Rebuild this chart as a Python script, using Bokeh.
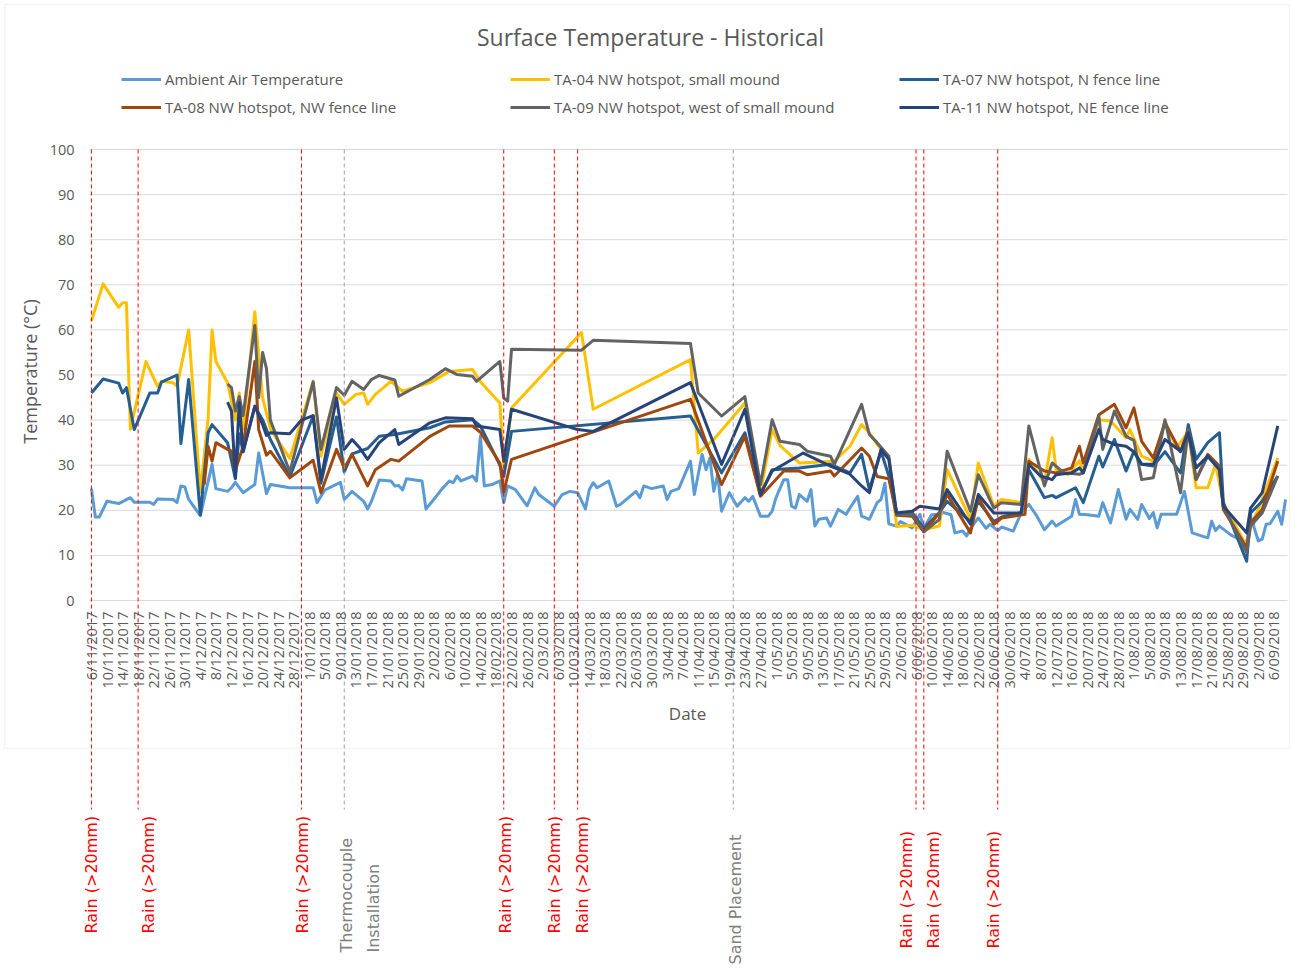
import math
import pandas as pd
from bokeh.plotting import figure
from bokeh.models import (Range1d, FixedTicker, DatetimeTickFormatter, Label,
                          Legend, LegendItem, BoxAnnotation, ColumnDataSource)
from bokeh.core.properties import value
from bokeh.embed import file_html
from bokeh.resources import INLINE

# ---------------------------------------------------------------- texts / ticks
TITLE = "Surface Temperature - Historical"
Y_LABEL = "Temperature (°C)"
X_LABEL = "Date"
Y_TICKS = [0, 10, 20, 30, 40, 50, 60, 70, 80, 90, 100]
X_TICK_FIRST = "2017-11-06"
X_TICK_LAST = "2018-09-06"
X_TICK_STEP = "4D"

# ---------------------------------------------------------------- series data
AMB_DATES = [
    "2017-11-06", "2017-11-07", "2017-11-08", "2017-11-10", "2017-11-13", "2017-11-16", "2017-11-17",
    "2017-11-21", "2017-11-22", "2017-11-23", "2017-11-27", "2017-11-28", "2017-11-29", "2017-11-30",
    "2017-12-01", "2017-12-04", "2017-12-07", "2017-12-08", "2017-12-11", "2017-12-12", "2017-12-13",
    "2017-12-15", "2017-12-18", "2017-12-19", "2017-12-21", "2017-12-22", "2017-12-27", "2018-01-02",
    "2018-01-03", "2018-01-05", "2018-01-09", "2018-01-10", "2018-01-12", "2018-01-15", "2018-01-16",
    "2018-01-17", "2018-01-19", "2018-01-22", "2018-01-23", "2018-01-24", "2018-01-25", "2018-01-26",
    "2018-01-30", "2018-01-31", "2018-02-02", "2018-02-04", "2018-02-06", "2018-02-07", "2018-02-08",
    "2018-02-09", "2018-02-12", "2018-02-13", "2018-02-14", "2018-02-15", "2018-02-17", "2018-02-19",
    "2018-02-20", "2018-02-21", "2018-02-23", "2018-02-26", "2018-02-28", "2018-03-01", "2018-03-05",
    "2018-03-07", "2018-03-09", "2018-03-11", "2018-03-13", "2018-03-14", "2018-03-15", "2018-03-16",
    "2018-03-19", "2018-03-21", "2018-03-22", "2018-03-26", "2018-03-27", "2018-03-28", "2018-03-30",
    "2018-04-02", "2018-04-03", "2018-04-04", "2018-04-06", "2018-04-09", "2018-04-10", "2018-04-12",
    "2018-04-13", "2018-04-14", "2018-04-15", "2018-04-16", "2018-04-17", "2018-04-19", "2018-04-21",
    "2018-04-23", "2018-04-24", "2018-04-25", "2018-04-27", "2018-04-29", "2018-04-30", "2018-05-01",
    "2018-05-03", "2018-05-04", "2018-05-05", "2018-05-06", "2018-05-07", "2018-05-09", "2018-05-10",
    "2018-05-11", "2018-05-12", "2018-05-14", "2018-05-15", "2018-05-17", "2018-05-19", "2018-05-20",
    "2018-05-22", "2018-05-23", "2018-05-25", "2018-05-27", "2018-05-28", "2018-05-29", "2018-05-30",
    "2018-06-01", "2018-06-02", "2018-06-05", "2018-06-07", "2018-06-08", "2018-06-10", "2018-06-12",
    "2018-06-13", "2018-06-15", "2018-06-16", "2018-06-18", "2018-06-19", "2018-06-20", "2018-06-22",
    "2018-06-24", "2018-06-25", "2018-06-27", "2018-06-28", "2018-07-01", "2018-07-03", "2018-07-05",
    "2018-07-07", "2018-07-09", "2018-07-11", "2018-07-12", "2018-07-16", "2018-07-17", "2018-07-18",
    "2018-07-20", "2018-07-23", "2018-07-24", "2018-07-26", "2018-07-28", "2018-07-30", "2018-07-31",
    "2018-08-02", "2018-08-03", "2018-08-05", "2018-08-06", "2018-08-07", "2018-08-08", "2018-08-12",
    "2018-08-14", "2018-08-16", "2018-08-20", "2018-08-21", "2018-08-22", "2018-08-23", "2018-08-26",
    "2018-08-30", "2018-08-31", "2018-09-02", "2018-09-03", "2018-09-04", "2018-09-05", "2018-09-07",
    "2018-09-08", "2018-09-09",
]
AMB_TEMPS = [
    24.8, 18.5, 18.5, 22.0, 21.5, 22.8, 21.8,
    21.8, 21.3, 22.5, 22.4, 21.7, 25.4, 25.2,
    22.4, 18.8, 30.2, 24.8, 24.2, 25.0, 26.2,
    23.9, 25.7, 32.7, 23.7, 25.7, 25.0, 25.0,
    21.7, 24.5, 26.2, 22.4, 24.2, 22.0, 20.3,
    22.0, 26.7, 26.5, 25.4, 25.5, 24.5, 27.0,
    26.5, 20.3, 22.4, 24.6, 26.5, 26.1, 27.6,
    26.5, 27.6, 26.5, 36.4, 25.4, 25.7, 26.5,
    21.7, 25.4, 24.6, 21.0, 25.0, 23.5, 20.9,
    23.5, 24.2, 23.9, 20.3, 24.6, 26.1, 25.0,
    26.5, 20.9, 21.3, 24.2, 22.8, 25.4, 24.8,
    25.4, 22.4, 24.2, 24.8, 30.9, 23.5, 32.4,
    29.0, 31.6, 24.2, 28.0, 19.8, 23.9, 20.9,
    22.8, 22.0, 23.1, 18.7, 18.7, 19.8, 22.8,
    26.8, 26.8, 20.9, 20.5, 23.5, 22.0, 24.6,
    16.5, 18.0, 18.3, 16.5, 20.2, 19.1, 20.5,
    23.1, 18.7, 18.0, 21.7, 22.4, 26.0, 17.0,
    16.5, 17.5, 16.1, 19.1, 16.0, 19.0, 19.1,
    19.5, 19.0, 15.0, 15.4, 14.3, 16.0, 18.3,
    16.0, 16.9, 15.5, 16.3, 15.4, 19.4, 21.3,
    18.8, 15.7, 17.6, 16.5, 18.7, 22.4, 19.1,
    19.0, 18.7, 21.7, 17.2, 24.6, 18.0, 20.2,
    18.0, 21.3, 18.2, 19.5, 16.1, 19.1, 19.1,
    24.2, 15.0, 13.9, 17.6, 15.5, 16.5, 14.5,
    12.8, 18.7, 13.2, 13.6, 16.9, 17.0, 19.8,
    16.9, 22.4,
]

TA04_DATES = [
    "2017-11-06", "2017-11-09", "2017-11-13", "2017-11-14", "2017-11-15", "2017-11-16", "2017-11-20",
    "2017-11-23", "2017-11-24", "2017-11-27", "2017-11-28", "2017-12-01", "2017-12-04", "2017-12-06",
    "2017-12-07", "2017-12-08", "2017-12-11", "2017-12-13", "2017-12-14", "2017-12-15", "2017-12-18",
    "2017-12-20", "2017-12-22", "2017-12-27", "2018-01-02", "2018-01-04", "2018-01-08", "2018-01-10",
    "2018-01-13", "2018-01-15", "2018-01-16", "2018-01-18", "2018-01-22", "2018-01-25", "2018-02-01",
    "2018-02-06", "2018-02-12", "2018-02-14", "2018-02-19", "2018-02-20", "2018-02-22", "2018-03-12",
    "2018-03-15", "2018-04-09", "2018-04-11", "2018-04-15", "2018-04-23", "2018-04-27", "2018-04-30",
    "2018-05-02", "2018-05-05", "2018-05-07", "2018-05-16", "2018-05-20", "2018-05-23", "2018-05-25",
    "2018-05-27", "2018-05-30", "2018-06-01", "2018-06-05", "2018-06-08", "2018-06-12", "2018-06-14",
    "2018-06-20", "2018-06-22", "2018-06-26", "2018-06-28", "2018-07-03", "2018-07-05", "2018-07-09",
    "2018-07-11", "2018-07-12", "2018-07-15", "2018-07-18", "2018-07-19", "2018-07-23", "2018-07-26",
    "2018-07-30", "2018-07-31", "2018-08-03", "2018-08-06", "2018-08-09", "2018-08-12", "2018-08-15",
    "2018-08-17", "2018-08-20", "2018-08-22", "2018-08-24", "2018-08-30", "2018-08-31", "2018-09-02",
    "2018-09-07",
]
TA04_TEMPS = [
    62.0, 70.2, 65.0, 66.0, 66.0, 38.0, 53.0,
    47.5, 48.6, 48.3, 47.5, 60.0, 24.0, 40.5,
    60.0, 53.0, 48.3, 40.0, 46.0, 38.0, 64.0,
    45.0, 38.0, 31.5, 48.6, 32.0, 46.0, 43.5,
    45.7, 46.0, 43.5, 45.7, 48.6, 46.4, 48.3,
    50.8, 51.2, 48.5, 43.8, 29.5, 42.7, 59.4,
    42.4, 53.4, 32.7, 35.7, 43.8, 23.9, 37.9,
    34.4, 32.0, 30.5, 30.9, 34.2, 39.0, 37.2,
    34.6, 31.6, 16.4, 16.7, 15.7, 16.5, 29.0,
    18.0, 30.5, 20.9, 22.4, 21.7, 31.3, 26.1,
    36.1, 29.0, 27.9, 31.0, 28.7, 40.1, 39.8,
    36.1, 37.9, 32.0, 30.9, 39.8, 33.8, 37.5,
    25.0, 25.0, 30.2, 21.7, 12.0, 16.5, 20.2,
    31.6,
]

TA07_DATES = [
    "2017-11-06", "2017-11-09", "2017-11-13", "2017-11-14", "2017-11-15", "2017-11-17", "2017-11-21",
    "2017-11-23", "2017-11-24", "2017-11-28", "2017-11-29", "2017-12-01", "2017-12-04", "2017-12-06",
    "2017-12-07", "2017-12-11", "2017-12-13", "2017-12-14", "2017-12-15", "2017-12-18", "2017-12-20",
    "2017-12-22", "2017-12-27", "2018-01-02", "2018-01-04", "2018-01-08", "2018-01-10", "2018-01-12",
    "2018-01-16", "2018-01-19", "2018-01-23", "2018-02-01", "2018-02-05", "2018-02-12", "2018-02-14",
    "2018-02-19", "2018-02-20", "2018-02-22", "2018-04-09", "2018-04-17", "2018-04-23", "2018-04-27",
    "2018-04-30", "2018-05-07", "2018-05-15", "2018-05-20", "2018-05-23", "2018-05-25", "2018-05-28",
    "2018-05-30", "2018-06-01", "2018-06-05", "2018-06-08", "2018-06-12", "2018-06-14", "2018-06-20",
    "2018-06-22", "2018-06-26", "2018-06-28", "2018-07-03", "2018-07-05", "2018-07-09", "2018-07-11",
    "2018-07-12", "2018-07-17", "2018-07-19", "2018-07-23", "2018-07-24", "2018-07-27", "2018-07-30",
    "2018-08-01", "2018-08-03", "2018-08-06", "2018-08-09", "2018-08-13", "2018-08-15", "2018-08-17",
    "2018-08-20", "2018-08-23", "2018-08-24", "2018-08-30", "2018-08-31", "2018-09-03", "2018-09-07",
]
TA07_TEMPS = [
    46.0, 49.1, 48.2, 46.0, 47.2, 37.9, 46.0,
    46.0, 48.4, 50.0, 34.8, 49.0, 19.0, 37.2,
    39.0, 35.0, 27.0, 37.0, 33.0, 43.0, 40.1,
    35.7, 27.4, 40.9, 26.0, 40.7, 28.5, 32.5,
    33.7, 36.4, 36.8, 38.3, 39.6, 40.1, 38.7,
    30.0, 27.5, 37.5, 40.9, 28.3, 37.2, 23.5,
    29.0, 29.4, 30.2, 28.3, 32.4, 24.6, 33.1,
    27.6, 19.4, 19.5, 16.0, 19.5, 22.0, 17.5,
    22.0, 17.5, 18.5, 19.5, 29.0, 22.8, 23.3,
    22.8, 25.0, 21.7, 32.0, 29.6, 35.7, 28.7,
    33.1, 30.2, 29.8, 33.0, 28.3, 39.0, 31.3,
    35.0, 37.2, 21.7, 8.7, 19.4, 22.0, 27.6,
]

TA08_DATES = [
    "2017-12-05", "2017-12-06", "2017-12-07", "2017-12-08", "2017-12-11", "2017-12-12", "2017-12-13",
    "2017-12-15", "2017-12-18", "2017-12-19", "2017-12-21", "2017-12-22", "2017-12-27", "2018-01-02",
    "2018-01-04", "2018-01-08", "2018-01-10", "2018-01-12", "2018-01-16", "2018-01-18", "2018-01-22",
    "2018-01-24", "2018-02-01", "2018-02-06", "2018-02-12", "2018-02-14", "2018-02-19", "2018-02-20",
    "2018-02-22", "2018-04-09", "2018-04-17", "2018-04-23", "2018-04-27", "2018-05-03", "2018-05-07",
    "2018-05-09", "2018-05-15", "2018-05-16", "2018-05-23", "2018-05-25", "2018-05-27", "2018-05-30",
    "2018-06-01", "2018-06-05", "2018-06-08", "2018-06-12", "2018-06-14", "2018-06-20", "2018-06-22",
    "2018-06-26", "2018-06-28", "2018-07-04", "2018-07-05", "2018-07-09", "2018-07-12", "2018-07-16",
    "2018-07-18", "2018-07-19", "2018-07-23", "2018-07-27", "2018-07-30", "2018-08-01", "2018-08-03",
    "2018-08-06", "2018-08-09", "2018-08-13", "2018-08-15", "2018-08-17", "2018-08-20", "2018-08-23",
    "2018-08-24", "2018-08-30", "2018-08-31", "2018-09-03", "2018-09-07",
]
TA08_TEMPS = [
    25.7, 34.2, 30.9, 35.0, 33.5, 33.1, 28.9,
    34.2, 53.0, 37.9, 32.2, 33.1, 27.2, 31.1,
    23.9, 33.5, 29.4, 32.4, 25.4, 29.0, 31.3,
    30.9, 36.4, 38.7, 38.7, 37.3, 30.5, 24.0,
    31.3, 44.6, 25.7, 36.4, 23.1, 28.7, 28.7,
    27.9, 28.7, 27.6, 33.8, 32.0, 27.5, 27.0,
    18.9, 18.7, 15.3, 19.4, 23.5, 15.0, 22.8,
    16.9, 18.3, 19.1, 30.9, 28.7, 28.3, 29.4,
    34.2, 30.5, 41.2, 43.5, 38.3, 42.7, 35.3,
    31.6, 39.4, 33.0, 37.9, 26.8, 32.4, 29.8,
    20.2, 11.7, 17.2, 20.2, 30.9,
]

TA09_DATES = [
    "2017-12-11", "2017-12-12", "2017-12-13", "2017-12-14", "2017-12-15", "2017-12-18", "2017-12-19",
    "2017-12-20", "2017-12-21", "2017-12-22", "2017-12-27", "2018-01-02", "2018-01-04", "2018-01-08",
    "2018-01-10", "2018-01-12", "2018-01-15", "2018-01-17", "2018-01-19", "2018-01-23", "2018-01-24",
    "2018-02-01", "2018-02-05", "2018-02-08", "2018-02-12", "2018-02-13", "2018-02-19", "2018-02-20",
    "2018-02-21", "2018-02-22", "2018-03-12", "2018-03-15", "2018-04-09", "2018-04-11", "2018-04-17",
    "2018-04-23", "2018-04-27", "2018-04-30", "2018-05-02", "2018-05-07", "2018-05-09", "2018-05-15",
    "2018-05-16", "2018-05-23", "2018-05-25", "2018-05-27", "2018-05-30", "2018-06-01", "2018-06-05",
    "2018-06-08", "2018-06-12", "2018-06-14", "2018-06-20", "2018-06-22", "2018-06-26", "2018-06-28",
    "2018-07-03", "2018-07-05", "2018-07-09", "2018-07-11", "2018-07-14", "2018-07-18", "2018-07-19",
    "2018-07-23", "2018-07-24", "2018-07-27", "2018-07-30", "2018-08-01", "2018-08-03", "2018-08-06",
    "2018-08-09", "2018-08-13", "2018-08-15", "2018-08-17", "2018-08-20", "2018-08-23", "2018-08-24",
    "2018-08-30", "2018-08-31", "2018-09-03", "2018-09-07",
]
TA09_TEMPS = [
    48.0, 47.2, 42.0, 45.2, 41.0, 61.0, 45.0,
    55.0, 51.4, 40.0, 28.5, 48.5, 33.5, 47.2,
    45.5, 48.6, 46.8, 49.0, 49.9, 48.9, 45.3,
    49.0, 51.4, 50.1, 49.7, 48.6, 53.0, 44.9,
    44.2, 55.7, 55.5, 57.7, 57.0, 46.0, 40.9,
    45.2, 25.7, 40.1, 35.3, 34.6, 33.1, 32.0,
    30.2, 43.5, 36.8, 35.0, 32.0, 19.0, 19.1,
    15.2, 18.0, 33.1, 19.8, 27.9, 20.5, 21.7,
    21.3, 38.7, 25.4, 30.5, 28.3, 28.0, 28.3,
    40.9, 33.5, 42.0, 36.4, 35.5, 26.8, 27.2,
    40.1, 23.9, 37.9, 26.8, 32.0, 29.4, 20.9,
    10.6, 16.5, 19.4, 27.6,
]

TA11_DATES = [
    "2017-12-11", "2017-12-12", "2017-12-13", "2017-12-14", "2017-12-15", "2017-12-18", "2017-12-20",
    "2017-12-21", "2017-12-22", "2017-12-27", "2017-12-30", "2018-01-02", "2018-01-04", "2018-01-08",
    "2018-01-10", "2018-01-12", "2018-01-14", "2018-01-16", "2018-01-19", "2018-01-23", "2018-01-24",
    "2018-02-01", "2018-02-05", "2018-02-12", "2018-02-13", "2018-02-19", "2018-02-20", "2018-02-22",
    "2018-03-11", "2018-03-15", "2018-04-09", "2018-04-17", "2018-04-23", "2018-04-27", "2018-04-30",
    "2018-05-08", "2018-05-15", "2018-05-20", "2018-05-23", "2018-05-25", "2018-05-28", "2018-05-30",
    "2018-06-01", "2018-06-05", "2018-06-07", "2018-06-12", "2018-06-14", "2018-06-20", "2018-06-22",
    "2018-06-26", "2018-07-03", "2018-07-05", "2018-07-08", "2018-07-11", "2018-07-12", "2018-07-16",
    "2018-07-18", "2018-07-19", "2018-07-23", "2018-07-24", "2018-07-27", "2018-07-30", "2018-08-01",
    "2018-08-03", "2018-08-06", "2018-08-09", "2018-08-13", "2018-08-15", "2018-08-17", "2018-08-20",
    "2018-08-23", "2018-08-24", "2018-08-30", "2018-08-31", "2018-09-03", "2018-09-07",
]
TA11_TEMPS = [
    44.0, 42.0, 27.2, 43.8, 33.0, 43.1, 39.0,
    36.6, 37.2, 37.0, 40.0, 41.0, 26.8, 44.9,
    33.5, 35.7, 33.8, 31.3, 35.0, 37.9, 34.6,
    39.4, 40.5, 40.3, 38.7, 37.9, 30.9, 42.4,
    37.9, 37.5, 48.3, 30.2, 42.4, 23.5, 28.7,
    32.7, 29.8, 28.0, 25.4, 23.9, 33.5, 31.3,
    19.4, 19.8, 20.9, 20.3, 24.6, 16.9, 23.5,
    19.4, 19.4, 30.2, 27.6, 26.8, 27.9, 28.3,
    29.4, 28.3, 37.9, 35.7, 34.6, 34.2, 33.0,
    30.2, 30.2, 35.7, 33.1, 37.2, 29.4, 32.0,
    29.0, 20.9, 15.0, 20.5, 23.9, 38.7,
]

SERIES_NAMES = [
    "Ambient Air Temperature",
    "TA-04 NW hotspot, small mound",
    "TA-07 NW hotspot, N fence line",
    "TA-08 NW hotspot, NW fence line",
    "TA-09 NW hotspot, west of small mound",
    "TA-11 NW hotspot, NE fence line",
]

# ---------------------------------------------------------------- events
EVENT_DATES = ["2017-11-06", "2017-11-18", "2017-12-30", "2018-01-10", "2018-02-20", "2018-03-05",
               "2018-03-11", "2018-04-20", "2018-06-06", "2018-06-08", "2018-06-27"]
EVENT_LABELS = ["Rain (>20mm)", "Rain (>20mm)", "Rain (>20mm)", "Thermocouple\nInstallation",
                "Rain (>20mm)", "Rain (>20mm)", "Rain (>20mm)", "Sand Placement",
                "Rain (>20mm)", "Rain (>20mm)", "Rain (>20mm)"]
EVENT_KINDS = ["rain", "rain", "rain", "works", "rain", "rain", "rain", "works", "rain", "rain", "rain"]

# ---------------------------------------------------------------- styling / layout
COLORS = ["#5B9BD5", "#FFC000", "#255E91", "#9E480E", "#636363", "#264478"]
EVENT_COLOR = {"rain": "#FF0000", "works": "#A0A0A0"}
EVENT_TEXT_COLOR = {"rain": "#FF0000", "works": "#808080"}
EVENT_TEXT_START_PX = [933, 933, 933, 952, 933, 933, 933, 964, 948, 948, 948]
EVENT_TEXT_DX = [0, 10, 1, 16, 2, 0, 5, 2, -10, 10, -4]
EVENT_LINE_END_PX = 809
TEXT_GREY = "#595959"
GRID_GREY = "#D9D9D9"
FONT = "Open Sans"

W, H = 1290, 966
PLOT_L, PLOT_R = 89, 1287          # horizontal extent of the plot area (px)
PLOT_T, PLOT_B = 149, 600          # px of y = 100 and y = 0
BOX_TOP, BOX_BOTTOM = 4, 748       # chart-area frame
X_EDGE_FIRST = pd.Timestamp(X_TICK_FIRST) - pd.Timedelta(hours=12)
X_EDGE_LAST = pd.Timestamp("2018-09-09") + pd.Timedelta(hours=12)


def ms(t):
    return pd.Timestamp(t).value / 1e6


ms_per_px = (ms(X_EDGE_LAST) - ms(X_EDGE_FIRST)) / (PLOT_R - PLOT_L)
x_start = ms(X_EDGE_FIRST) - PLOT_L * ms_per_px
x_end = ms(X_EDGE_LAST) + (W - PLOT_R) * ms_per_px
u_per_px = (Y_TICKS[-1] - Y_TICKS[0]) / (PLOT_B - PLOT_T)
y_end = Y_TICKS[-1] + PLOT_T * u_per_px
y_start = Y_TICKS[0] - (H - PLOT_B) * u_per_px


def y_at(px):
    return y_end - px * u_per_px


p = figure(width=W, height=H, x_axis_type="datetime",
           x_range=Range1d(x_start, x_end), y_range=Range1d(y_start, y_end),
           output_backend="svg", toolbar_location=None,
           min_border_left=0, min_border_right=0, min_border_top=0, min_border_bottom=0)
p.outline_line_color = None
p.background_fill_color = "white"
p.border_fill_color = "white"
p.grid.visible = False

# chart-area border
p.add_layout(BoxAnnotation(left=4, right=W - 1, left_units="screen", right_units="screen",
                           top=y_at(BOX_TOP), bottom=y_at(BOX_BOTTOM), fill_alpha=0, fill_color=None,
                           line_color=GRID_GREY, line_width=1.5, level="underlay"))

# horizontal grid lines across the plot area
p.segment(x0=[ms(X_EDGE_FIRST)] * len(Y_TICKS), x1=[ms(X_EDGE_LAST)] * len(Y_TICKS),
          y0=Y_TICKS, y1=Y_TICKS, line_color=GRID_GREY, line_width=1)

# axes
x_ticks = [ms(t) for t in pd.date_range(X_TICK_FIRST, X_TICK_LAST, freq=X_TICK_STEP)]
xa = p.xaxis[0]
xa.fixed_location = 0
xa.ticker = FixedTicker(ticks=x_ticks)
fmt = "%-d/%m/%Y"
xa.formatter = DatetimeTickFormatter(days=fmt, months=fmt, years=fmt, hours=fmt, hourmin=fmt,
                                     minutes=fmt, minsec=fmt, seconds=fmt, milliseconds=fmt,
                                     microseconds=fmt)
xa.major_label_orientation = math.pi / 2
xa.major_label_text_font = FONT
xa.major_label_text_font_size = "14.5px"
xa.major_label_text_color = TEXT_GREY
xa.major_label_standoff = 11
xa.major_tick_out = 0
xa.major_tick_in = 0
xa.minor_tick_out = 0
xa.major_tick_line_color = None
xa.minor_tick_line_color = None
xa.axis_line_color = None

ya = p.yaxis[0]
ya.fixed_location = ms(X_EDGE_FIRST)
ya.ticker = FixedTicker(ticks=Y_TICKS)
ya.major_label_text_font = FONT
ya.major_label_text_font_size = "14.5px"
ya.major_label_text_color = TEXT_GREY
ya.major_label_standoff = 15
ya.major_tick_out = 0
ya.major_tick_in = 0
ya.minor_tick_out = 0
ya.major_tick_line_color = None
ya.minor_tick_line_color = None
ya.axis_line_color = None

# series
series = [
    (AMB_DATES, AMB_TEMPS), (TA04_DATES, TA04_TEMPS), (TA07_DATES, TA07_TEMPS),
    (TA08_DATES, TA08_TEMPS), (TA09_DATES, TA09_TEMPS), (TA11_DATES, TA11_TEMPS),
]
items = []
for name, (dates, temps), color in zip(SERIES_NAMES, series, COLORS):
    src = ColumnDataSource(dict(x=pd.to_datetime(dates), y=temps))
    r = p.line("x", "y", source=src, line_color=color, line_width=3, line_join="round")
    items.append(LegendItem(label=name, renderers=[r]))

# event markers
ev = ColumnDataSource(dict(
    x=pd.to_datetime(EVENT_DATES),
    y0=[Y_TICKS[-1]] * len(EVENT_DATES),
    y1=[y_at(EVENT_LINE_END_PX)] * len(EVENT_DATES),
    color=[EVENT_COLOR[k] for k in EVENT_KINDS],
    tcolor=[EVENT_TEXT_COLOR[k] for k in EVENT_KINDS],
    ty=[y_at(v) for v in EVENT_TEXT_START_PX],
    dx=EVENT_TEXT_DX,
    text=EVENT_LABELS,
))
p.segment(x0="x", x1="x", y0="y0", y1="y1", source=ev, line_color="color",
          line_width=1, line_dash="4 3")
p.text(x="x", y="ty", text="text", source=ev, angle=math.pi / 2, x_offset="dx",
       text_align="left", text_baseline="middle", text_color="tcolor",
       text_font=value("DejaVu Sans"), text_font_size="16px", text_line_height=1.4)

# legend
legend = Legend(items=items, location=(121, H - 117), orientation="horizontal", ncols=3,
                glyph_width=40, glyph_height=20, label_width=337, label_height=20,
                label_standoff=4, spacing=8, padding=0, margin=0,
                border_line_color=None, background_fill_alpha=0,
                label_text_font=FONT, label_text_font_size="15px",
                label_text_color=TEXT_GREY)
p.add_layout(legend)

# titles
p.add_layout(Label(x=650, y=y_at(36), x_units="screen", text=TITLE, text_align="center",
                   text_baseline="middle", text_font=FONT, text_font_size="23px",
                   text_color=TEXT_GREY))
p.add_layout(Label(x=29, y=y_at(371), x_units="screen", text=Y_LABEL, angle=math.pi / 2,
                   text_align="center", text_baseline="middle", text_font=FONT,
                   text_font_size="18px", text_color=TEXT_GREY))
p.add_layout(Label(x=687, y=y_at(713), x_units="screen", text=X_LABEL, text_align="center",
                   text_baseline="middle", text_font=FONT, text_font_size="17px",
                   text_color=TEXT_GREY))

open("out.html", "w").write(file_html(p, INLINE))
